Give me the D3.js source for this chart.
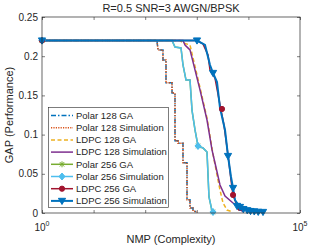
<!DOCTYPE html>
<html>
<head>
<meta charset="utf-8">
<script src="https://cdn.jsdelivr.net/npm/d3@7"></script>
<style>
  body { margin: 0; background: #fff; }
  text { font-family: "Liberation Sans", Arial, sans-serif; fill: #262626; }
</style>
</head>
<body>
<div class="vis-holder"></div>
<script>
// series names, in legend order
var seriesNames = ["Polar 128 GA", "Polar 128 Simulation", "LDPC 128 GA", "LDPC 128 Simulation",
                   "Polar 256 GA", "Polar 256 Simulation", "LDPC 256 GA", "LDPC 256 Simulation"];

// values: [NMP, GAP]
var polar128GA = [[1,.22],[169,.22],[177,.208],[221,.208],[221,.195],[253,.195],[253,.166],[331,.166],[331,.153],
  [378,.153],[378,.092],[432,.092],[432,.089],[540,.089],[540,.064],[646,.064],[646,.017],[738,.017],[738,.0064],
  [844,.0064],[844,.0026],[1009,.0013]];
var polar128Sim = [[1,.22],[169,.22],[177,.208],[221,.208],[221,.195],[253,.195],[253,.166],[331,.166],[331,.153],
  [378,.153],[378,.092],[432,.092],[432,.089],[540,.089],[540,.064],[646,.064],[646,.017],[738,.017],[738,.0064],
  [844,.0064],[844,.0026],[1009,.0013]];
var ldpc128GA = [[1,.22],[472,.22],[540,.217],[738,.2143],[1153,.16],[1577,.121],[2061,.075],[2576,.0421],
  [2816,.0293],[3219,.0128],[3846,.0038],[5035,.0013]];
var ldpc128Sim = [[1,.22],[540,.22],[591,.2143],[738,.208],[1153,.157],[1577,.1186],[1971,.0804],[2254,.0638],
  [2816,.0357],[3522,.0217],[5035,.0128],[6871,.0055],[7852,.0013]];
var polar256GA = [[1,.22],[331,.22],[378,.2117],[494,.2105],[540,.1888],[618,.1696],[738,.1696],[808,.131],
  [923,.1059],[1055,.0855],[1318,.083],[1577,.0778],[1649,.0485],[1723,.0204],[1971,.0026],[2061,.0013]];
var polar256Sim = [[1,.22],[331,.22],[378,.2117],[494,.2105],[540,.1888],[618,.1696],[738,.1696],[808,.131],
  [923,.1059],[1055,.0855],[1318,.083],[1577,.0778],[1649,.0485],[1723,.0204],[1971,.0026],[2061,.0013]];
var ldpc256GA = [[1,.22],[1009,.22],[1318,.2156],[1649,.2015],[1803,.1824],[2254,.172],[2816,.1378],[3365,.1122],
  [4027,.074],[4603,.0421],[5035,.023],[5754,.0128],[6871,.0064],[8590,.0026]];
var ldpc256Sim = [[1,.22],[1009,.22],[1442,.2143],[1803,.1888],[2061,.1786],[2463,.167],[2816,.134],[3522,.1059],
  [4027,.0727],[4603,.0459],[5035,.0319],[5500,.0166],[6871,.0077],[10740,.0026],[19190,.0013]];

// where the markers sit
var polar256GAMarks = [[1,.22],[1055,.0855],[2061,.0013]];
var polar256SimMarks = [[1,.22],[1055,.0855],[2061,.0013]];
var ldpc256GAMarks = [[1,.22],[3077,.1327],[5035,.023],[6871,.0064]];
var ldpc256SimMarks = [[1,.22],[1009,.22],[2061,.1786],[4027,.0727],[5035,.0319],[6012,.009],[6871,.0077],
  [8000,.005],[9500,.0035],[11000,.0025],[13000,.002],[15500,.0015],[19190,.0013]];

var xTicks = [1, 10, 100, 1000, 10000, 100000];
var yTicks = [0, 0.05, 0.1, 0.15, 0.2, 0.25];

var width = 332, height = 249;
var margin = { top: 17, bottom: 36, left: 42, right: 32 };

var svg = d3.select(".vis-holder").append("svg")
            .attr("width", width).attr("height", height);

var xScale = d3.scaleLog().domain([1, 1e5]).range([margin.left, width - margin.right]);
var yScale = d3.scaleLinear().domain([0, 0.25]).range([height - margin.bottom, margin.top]);

var series = [
  { name: seriesNames[0], data: polar128GA, color: "#0072BD", width: 1.5, dash: "5,2,1.5,2" },
  { name: seriesNames[1], data: polar128Sim, color: "#D95319", width: 1.5, dash: "1.2,1.2" },
  { name: seriesNames[2], data: ldpc128GA, color: "#EDB120", width: 1.5, dash: "4,2.5" },
  { name: seriesNames[3], data: ldpc128Sim, color: "#7E2F8E", width: 1.5, dash: null },
  { name: seriesNames[4], data: polar256GA, color: "#77AC30", width: 1.5, dash: null, marker: "star", marks: polar256GAMarks },
  { name: seriesNames[5], data: polar256Sim, color: "#4DBEEE", width: 1.5, dash: null, marker: "diamond", marks: polar256SimMarks },
  { name: seriesNames[6], data: ldpc256GA, color: "#A2142F", width: 1.5, dash: null, marker: "circle", marks: ldpc256GAMarks },
  { name: seriesNames[7], data: ldpc256Sim, color: "#0072BD", width: 2, dash: null, marker: "triangle", marks: ldpc256SimMarks }
];

// axes with inward ticks, box on
var x0 = margin.left, x1 = width - margin.right, y0 = height - margin.bottom, y1 = margin.top;

svg.append("g").attr("transform", `translate(0,${y0})`)
   .call(d3.axisBottom(xScale).tickValues(xTicks).tickSize(-3).tickFormat(""));
svg.append("g").attr("transform", `translate(0,${y1})`)
   .call(d3.axisTop(xScale).tickValues(xTicks).tickSize(-3).tickFormat(""));
svg.append("g").attr("transform", `translate(${x0},0)`)
   .call(d3.axisLeft(yScale).tickValues(yTicks).tickSize(-3).tickFormat(""));
svg.append("g").attr("transform", `translate(${x1},0)`)
   .call(d3.axisRight(yScale).tickValues(yTicks).tickSize(-3).tickFormat(""));
svg.selectAll(".domain").remove();
svg.selectAll(".tick line").attr("stroke", "#262626").attr("stroke-width", 0.6);

// y tick labels
svg.append("g").selectAll("text").data(yTicks).enter().append("text")
   .attr("x", x0 - 4).attr("y", function(d) { return yScale(d); })
   .attr("dy", "0.35em").attr("text-anchor", "end").attr("font-size", 10)
   .text(function(d) { return d3.format("~g")(d); });

// x tick labels, only the ends, as powers of ten
var xLab = svg.append("g").selectAll("text").data([1, 1e5]).enter().append("text")
   .attr("x", function(d) { return xScale(d); }).attr("y", y0 + 18)
   .attr("text-anchor", "middle").attr("font-size", 10);
xLab.append("tspan").text("10");
xLab.append("tspan").attr("dy", -5).attr("font-size", 7)
    .text(function(d) { return Math.round(Math.log10(d)); });

// curves
var line = d3.line().x(function(d) { return xScale(d[0]); }).y(function(d) { return yScale(d[1]); });
var plot = svg.append("g");
plot.selectAll("path").data(series).enter().append("path")
    .attr("d", function(s) { return line(s.data); })
    .attr("fill", "none")
    .attr("stroke", function(s) { return s.color; })
    .attr("stroke-width", function(s) { return s.width; })
    .attr("stroke-dasharray", function(s) { return s.dash; });

function drawMarker(g, type, color, cx, cy) {
  if (type === "circle") {
    g.append("circle").attr("cx", cx).attr("cy", cy).attr("r", 2.6).attr("fill", color).attr("stroke", color);
  } else if (type === "triangle") {
    g.append("path").attr("d", `M${cx-3.6},${cy-2.6}L${cx+3.6},${cy-2.6}L${cx},${cy+3.6}Z`).attr("fill", color).attr("stroke", color);
  } else if (type === "diamond") {
    g.append("path").attr("d", `M${cx},${cy-3.5}L${cx+3},${cy}L${cx},${cy+3.5}L${cx-3},${cy}Z`).attr("fill", color).attr("stroke", color);
  } else if (type === "star") {
    g.append("path").attr("d", `M${cx-3},${cy}L${cx+3},${cy}M${cx},${cy-3}L${cx},${cy+3}M${cx-2.2},${cy-2.2}L${cx+2.2},${cy+2.2}M${cx-2.2},${cy+2.2}L${cx+2.2},${cy-2.2}`)
     .attr("stroke", color).attr("stroke-width", 1);
  }
}

series.forEach(function(s) {
  if (!s.marker) return;
  var g = plot.append("g");
  s.marks.forEach(function(p) { drawMarker(g, s.marker, s.color, xScale(p[0]), yScale(p[1])); });
});

// box
svg.append("rect").attr("x", x0).attr("y", y1).attr("width", x1 - x0).attr("height", y0 - y1)
   .attr("fill", "none").attr("stroke", "#262626").attr("stroke-width", 0.7);

// legend
var lg = svg.append("g");
lg.append("rect").attr("x", 48.5).attr("y", 107.5).attr("width", 120).attr("height", 100)
  .attr("fill", "#fff").attr("stroke", "#262626").attr("stroke-width", 0.6);
series.forEach(function(s, i) {
  var ly = 115.5 + i * 12.2;
  lg.append("line").attr("x1", 51).attr("x2", 73).attr("y1", ly).attr("y2", ly)
    .attr("stroke", s.color).attr("stroke-width", s.width).attr("stroke-dasharray", s.dash);
  if (s.marker) drawMarker(lg, s.marker, s.color, 62, ly);
  lg.append("text").attr("x", 76).attr("y", ly).attr("dy", "0.35em")
    .attr("font-size", 9.5).text(s.name);
});

// titles
svg.append("text").attr("x", (x0 + x1) / 2).attr("y", 12).attr("text-anchor", "middle")
   .attr("font-size", 11).text("R=0.5 SNR=3 AWGN/BPSK");
svg.append("text").attr("x", (x0 + x1) / 2).attr("y", 243).attr("text-anchor", "middle")
   .attr("font-size", 11).text("NMP (Complexity)");
svg.append("text").attr("text-anchor", "middle")
   .attr("transform", `translate(13,${(y0 + y1) / 2})rotate(-90)`)
   .attr("font-size", 11).text("GAP (Performance)");
</script>
</body>
</html>
